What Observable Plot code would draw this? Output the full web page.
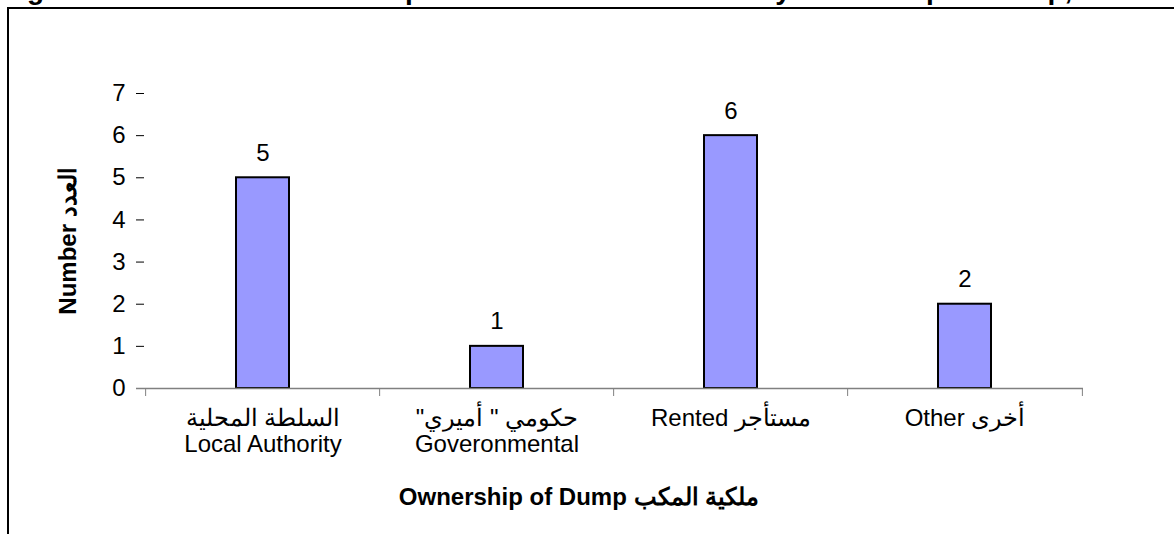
<!DOCTYPE html>
<html><head><meta charset="utf-8">
<script src="https://cdn.jsdelivr.net/npm/d3@7"></script>
<script src="https://cdn.jsdelivr.net/npm/@observablehq/plot@0.6"></script>
<style>
body{margin:0;background:#fff;}
#wrap{position:relative;width:1174px;height:534px;overflow:hidden;background:#fff;font-family:"Liberation Sans",Arial,sans-serif;}
#title{position:absolute;left:2px;top:-24px;white-space:nowrap;font-weight:bold;font-size:28px;line-height:28px;color:#000;}
#frame{position:absolute;left:7px;top:7px;width:1300px;height:700px;border-left:2px solid #000;border-top:2px solid #000;}
#chart{position:absolute;left:0;top:0;}
</style></head><body>
<div id="wrap"><div id="title"></div><div id="frame"></div><div id="chart"></div></div>
<script>
const titleText = "Figure 10: Distribution of Dumps in Hebron Governorate by Ownership of Dump, 2008";
const categories = ["Local Authority", "Governmental", "Rented", "Other"];
const tickLabels = [
  "السلطة المحلية\nLocal Authority",
  "\u202Bحكومي \" أميري\"\u202C\nGoveronmental",
  "Rented مستأجر",
  "Other أخرى"
];
const counts = [5, 1, 6, 2];
const yTicks = [0, 1, 2, 3, 4, 5, 6, 7];
const yLabel = "Number العدد";
const xLabel = "Ownership of Dump ملكية المكب";

document.getElementById("title").textContent = titleText;

const data = categories.map((c, i) => ({category: c, count: counts[i], label: tickLabels[i]}));

const W = 1174, H = 534, mL = 144, mR = 91, mT = 93, mB = 146;
const step = (W - mL - mR) / categories.length;

const chart = Plot.plot({
  width: W, height: H,
  marginLeft: mL, marginRight: mR, marginTop: mT, marginBottom: mB,
  style: {fontFamily: "'Liberation Sans', Arial, sans-serif", fontSize: "24px", color: "#000", background: "transparent"},
  x: {domain: categories, paddingInner: 0.774, paddingOuter: 0.387},
  y: {domain: [0, 7]},
  marks: [
    Plot.axisY({ticks: yTicks, tickFormat: "d", tickSize: 8, tickPadding: 11, line: true, label: null, fontSize: 24}),
    Plot.axisX({tickSize: 8, tickFormat: () => "", dx: -step / 2, stroke: "#808080", label: null}),
    Plot.axisX({ticks: [categories[categories.length - 1]], tickSize: 8, tickFormat: () => "", dx: step / 2, stroke: "#808080", label: null}),
    Plot.barY(data, {x: "category", y: "count", fill: "#9999FF", stroke: "#000", strokeWidth: 2}),
    Plot.ruleY([0], {stroke: "#808080", strokeWidth: 1.5, insetLeft: -8}),
    Plot.text(data, {x: "category", y: "count", text: d => String(d.count), lineAnchor: "bottom", dy: -17, fontSize: 24}),
    Plot.text(data, {x: "category", text: "label", frameAnchor: "bottom", lineAnchor: "top", dy: 20, lineHeight: 1.05, fontSize: 24}),
    Plot.text([yLabel], {text: d => d, frameAnchor: "left", textAnchor: "middle", rotate: -90, dx: -76, fontWeight: "bold", fontSize: 24}),
    Plot.text([xLabel], {text: d => d, frameAnchor: "bottom", dy: 116, dx: -35, fontWeight: "bold", fontSize: 24})
  ]
});
document.getElementById("chart").appendChild(chart);
</script>
</body></html>
